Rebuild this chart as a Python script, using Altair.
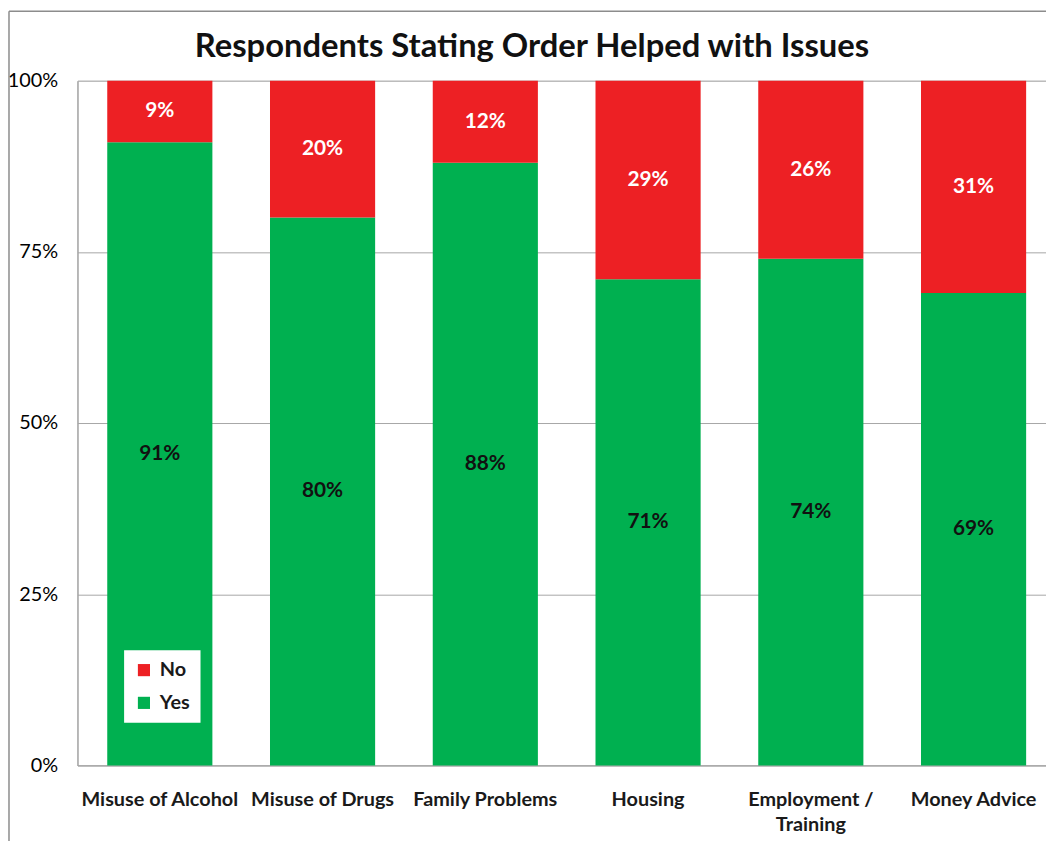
import altair as alt
import pandas as pd

categories = ["Misuse of Alcohol", "Misuse of Drugs", "Family Problems",
              "Housing", "Employment / Training", "Money Advice"]
yes_pct = [91, 80, 88, 71, 74, 69]
no_pct = [9, 20, 12, 29, 26, 31]
responses = ["No", "Yes"]
colors = ["#ED2024", "#00B050"]
y_ticks = [0, 0.25, 0.5, 0.75, 1.0]
title_text = "Respondents Stating Order Helped with Issues"

rows = []
for c, y, n in zip(categories, yes_pct, no_pct):
    rows.append({"cat": c, "resp": "Yes", "pct": y / 100, "ord": 0, "label": f"{y}%"})
    rows.append({"cat": c, "resp": "No", "pct": n / 100, "ord": 1, "label": f"{n}%"})
df = pd.DataFrame(rows)

FONT = "Lato, Open Sans, sans-serif"
GRID = "#a6a6a6"

base = alt.Chart(df).transform_stack(
    stack="pct", groupby=["cat"], as_=["y0", "y1"],
    sort=[alt.SortField("ord", order="ascending")]
).transform_calculate(mid="(datum.y0 + datum.y1) / 2")

x_enc = alt.X(
    "cat:N", sort=categories, title=None,
    scale=alt.Scale(range=[0, 986], paddingInner=0.354, paddingOuter=0.183),
    axis=alt.Axis(
        labelAngle=0, labelFont=FONT, labelFontSize=20, labelFontWeight="bold",
        labelColor="#1a1a1a", labelPadding=24, ticks=False, domainColor=GRID,
        domainWidth=1.5, labelLimit=300, labelLineHeight=26,
        labelExpr="datum.value == 'Employment / Training' ? ['Employment /', 'Training'] : datum.label",
    ),
)

bars = base.mark_bar().encode(
    x=x_enc,
    y=alt.Y(
        "y0:Q", title=None, scale=alt.Scale(domain=[0, 1]),
        axis=alt.Axis(
            values=y_ticks, format=".0%", ticks=False, labelPadding=20,
            labelFont=FONT, labelFontSize=20, labelColor="#000000",
            gridColor=GRID, domainColor=GRID, domainWidth=1.5,
        ),
    ),
    y2="y1:Q",
    color=alt.Color(
        "resp:N", scale=alt.Scale(domain=responses, range=colors), title=None,
        legend=alt.Legend(
            orient="none", legendX=47, legendY=574, fillColor="white",
            padding=10, symbolType="square", symbolSize=150, symbolStrokeWidth=0,
            labelFont=FONT, labelFontSize=20, labelFontWeight="bold",
            labelColor="#1a1a1a", rowPadding=13, labelOffset=6,
        ),
    ),
)

yes_text = base.transform_filter("datum.resp == 'Yes'").mark_text(
    font=FONT, fontSize=21, fontWeight="bold", color="#111111"
).encode(x=alt.X("cat:N", sort=categories), y=alt.Y("mid:Q"), text="label:N")

no_text = base.transform_filter("datum.resp == 'No'").mark_text(
    font=FONT, fontSize=21, fontWeight="bold", color="white"
).encode(x=alt.X("cat:N", sort=categories), y=alt.Y("mid:Q"), text="label:N")

frame_df = pd.DataFrame({"k": [0]})
border_v = alt.Chart(frame_df).mark_rule(color="#8c8c8c", strokeWidth=1.5).encode(
    x=alt.value(-69), y=alt.value(-70), y2=alt.value(900)
)
border_h = alt.Chart(frame_df).mark_rule(color="#8c8c8c", strokeWidth=1.5).encode(
    x=alt.value(-69), x2=alt.value(1100), y=alt.value(-70)
)
title_df = pd.DataFrame({"t": [title_text]})
title_mark = alt.Chart(title_df).mark_text(
    font=FONT, fontSize=33, fontWeight="bold", color="#111111",
    align="center", baseline="middle",
).encode(x=alt.value(458), y=alt.value(-34), text="t:N")

chart = alt.layer(bars, yes_text, no_text, border_v, border_h, title_mark).properties(
    width=976, height=690,
    autosize=alt.AutoSizeParams(type="none"),
    padding={"left": 70, "top": 70, "right": 0, "bottom": 76},
).configure_view(stroke=None).configure(background="white")

chart.save("out.html", embed_options={"renderer": "svg", "actions": False})
